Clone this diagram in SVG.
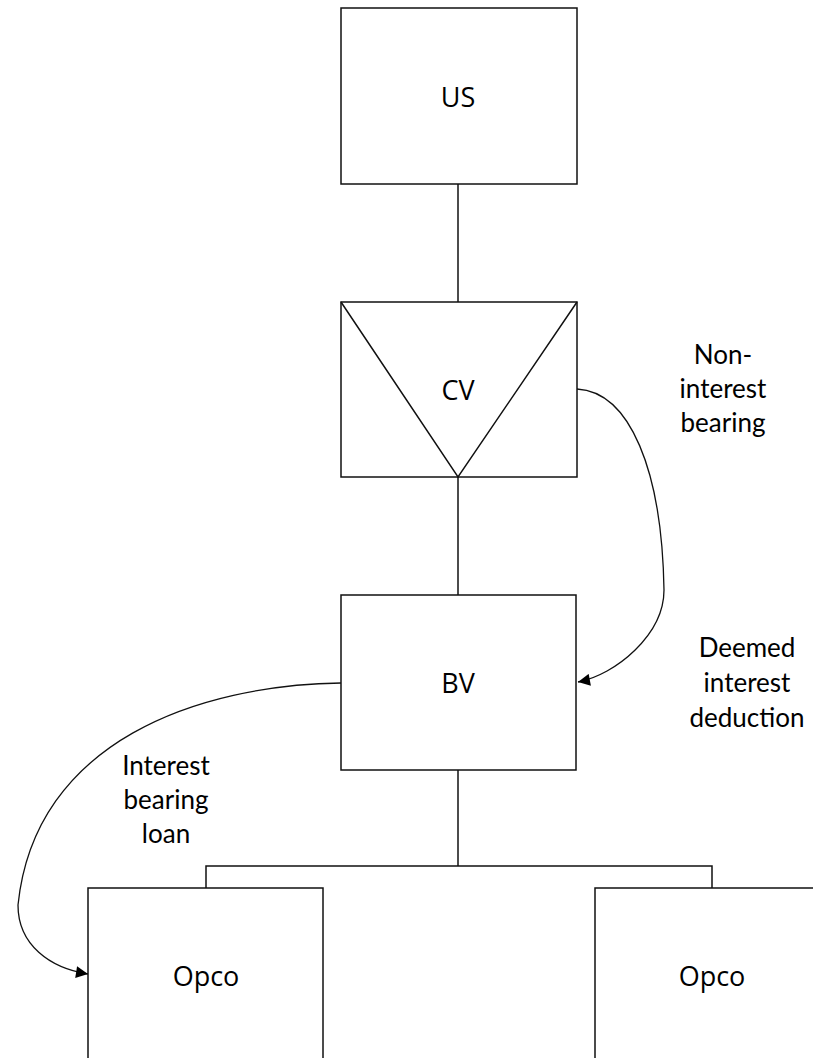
<svg xmlns="http://www.w3.org/2000/svg" width="813" height="1058" viewBox="0 0 813 1058">
<style>
.box{fill:#fff;stroke:#111;stroke-width:1.5}
.ln{fill:none;stroke:#111;stroke-width:1.5}
.cv{fill:none;stroke:#111;stroke-width:1.3}
.nl{font-family:"Open Sans","Liberation Sans",sans-serif;font-size:27px;fill:#000;text-anchor:middle}
.el{font-family:"Lato","Liberation Sans",sans-serif;font-size:26px;fill:#000;text-anchor:middle}
</style>
<defs>
<marker id="ah" viewBox="0 0 10 10" refX="10" refY="5" markerWidth="15" markerHeight="12" markerUnits="userSpaceOnUse" orient="auto">
<path d="M0,0 L10,5 L0,10 z" fill="#000"/>
</marker>
</defs>
<rect width="813" height="1058" fill="#fff"/>
<g id="connectors">
<line class="ln" x1="458" y1="184" x2="458" y2="302"/>
<line class="ln" x1="458" y1="477" x2="458" y2="595"/>
<line class="ln" x1="458" y1="770" x2="458" y2="866"/>
<polyline class="ln" points="206,888 206,866 712,866 712,888"/>
<path class="cv" d="M577,389 C630,392 662,470 664,590 C664,635 615,675 578,682" marker-end="url(#ah)"/>
<path class="cv" d="M341,683 C200,685 35,740 18,905 C18,945 50,968 88,974" marker-end="url(#ah)"/>
</g>
<g id="node-us">
<rect class="box" x="341" y="8" width="236" height="176"/>
<text class="nl" x="458" y="107">US</text>
</g>
<g id="node-cv">
<rect class="box" x="341" y="302" width="236" height="175"/>
<polyline class="ln" points="341,302 458,477 577,302"/>
<text class="nl" x="458" y="400">CV</text>
</g>
<g id="node-bv">
<rect class="box" x="341" y="595" width="235" height="175"/>
<text class="nl" x="458" y="693">BV</text>
</g>
<g id="node-opco1">
<rect class="box" x="88" y="888" width="235" height="176"/>
<text class="nl" x="206" y="986">Opco</text>
</g>
<g id="node-opco2">
<rect class="box" x="595" y="888" width="235" height="176"/>
<text class="nl" x="712" y="986">Opco</text>
</g>
<g id="labels">
<text class="el" x="723" y="364">Non-</text>
<text class="el" x="723" y="398">interest</text>
<text class="el" x="723" y="432">bearing</text>
<text class="el" x="747" y="657">Deemed</text>
<text class="el" x="747" y="692">interest</text>
<text class="el" x="747" y="727">deduction</text>
<text class="el" x="166" y="775">Interest</text>
<text class="el" x="166" y="809">bearing</text>
<text class="el" x="166" y="843">loan</text>
</g>
</svg>
